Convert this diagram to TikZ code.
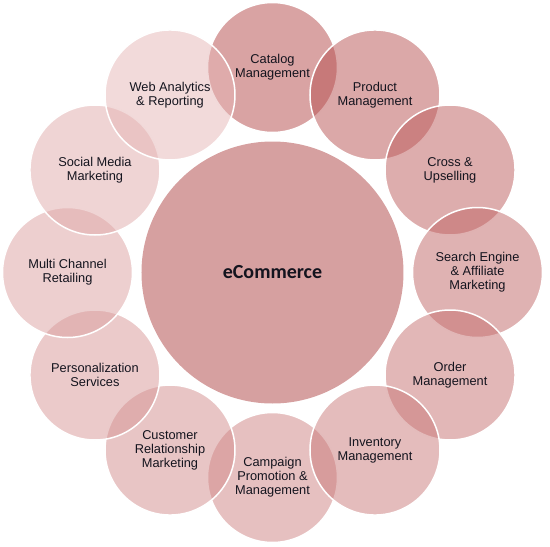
\documentclass[tikz,border=0pt]{standalone}
\usepackage{fontspec}
\setmainfont{Liberation Sans}
\newfontfamily\hubfont{Carlito}
\definecolor{ringDark}{RGB}{179,71,71}
\definecolor{ringLight}{RGB}{229,181,181}
\definecolor{hubFill}{RGB}{214,160,160}
\definecolor{labelInk}{RGB}{20,20,30}
\begin{document}
\begin{tikzpicture}[x=1pt, y=1pt,
	hub/.style={circle, fill=hubFill, minimum size=262pt, inner sep=0pt, text=labelInk, font=\hubfont\bfseries\fontsize{20}{23}\selectfont},
	topic/.style={circle, draw=white, line width=1.5pt, minimum size=130pt, inner sep=0pt, fill opacity=0.5, text opacity=1, text=labelInk, align=center, font=\fontsize{12.8}{14}\selectfont}]
	\useasboundingbox (-272.5,-274.5) rectangle (277.5,272.5);
	\node[hub] (hub) at (0, 0) {eCommerce};
	% ring of topics, clockwise from the top
	\foreach \name/\k/\txt in {catalog/0/{Catalog\\Management}, product/1/{Product\\Management}, cross/2/{Cross \&\\Upselling}, search/3/{Search Engine\\\& Affiliate\\Marketing}, order/4/{Order\\Management}, campaign/6/{Campaign\\Promotion \&\\Management}, inventory/5/{Inventory\\Management}, customer/7/{Customer\\Relationship\\Marketing}, personal/8/{Personalization\\Services}, multi/9/{Multi Channel\\Retailing}, social/10/{Social Media\\Marketing}, web/11/{Web Analytics\\\& Reporting}} {
		\pgfmathtruncatemacro\pct{100*\k/11}
		\colorlet{topicFill}{ringLight!\pct!ringDark}
		\node[topic, fill=topicFill] (\name) at ({90-30*\k}:205) {\txt};
	}
\end{tikzpicture}
\end{document}
